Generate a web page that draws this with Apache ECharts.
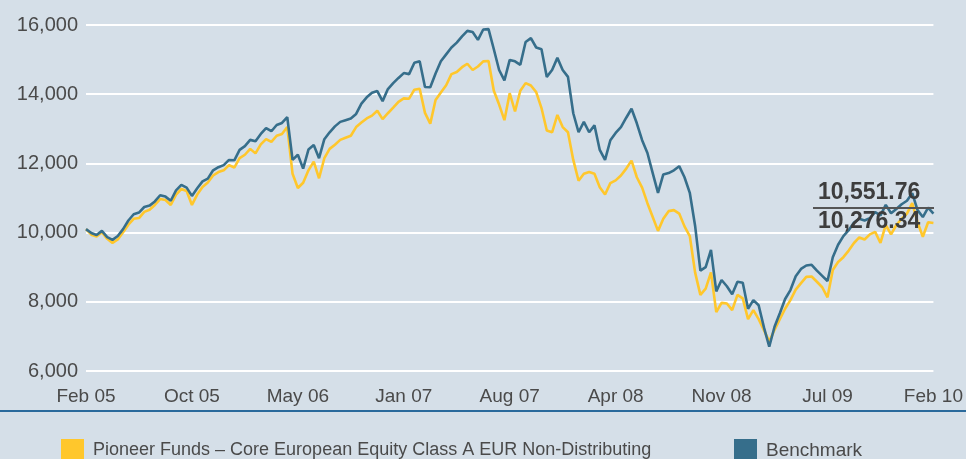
<!DOCTYPE html>
<html><head><meta charset="utf-8">
<script src="https://cdn.jsdelivr.net/npm/echarts@6/dist/echarts.min.js"></script>
<style>html,body{margin:0;padding:0;background:#d5dfe8}#c{width:966px;height:459px}</style>
</head><body><div id="c"></div><script>
const tickLabels = ['Feb 05','Oct 05','May 06','Jan 07','Aug 07','Apr 08','Nov 08','Jul 09','Feb 10'];
const seriesNames = ['Pioneer Funds \u2013 Core European Equity Class A EUR Non-Distributing', 'Benchmark'];
const fund = [
10100,9940,9890,10010,9820,9700,9800,10010,10230,10400,
10420,10600,10660,10800,10970,10940,10800,11100,11260,11200,
10800,11100,11320,11450,11650,11750,11800,11950,11880,12150,
12250,12420,12290,12550,12700,12620,12800,12850,13050,11700,
11290,11440,11800,12050,11570,12150,12420,12540,12680,12740,
12800,13050,13180,13300,13380,13520,13280,13450,13610,13780,
13880,13870,14130,14160,13460,13150,13830,14050,14260,14580,
14640,14780,14880,14700,14800,14950,14960,14100,13700,13250,
14030,13500,14100,14320,14250,14060,13600,12950,12900,13400,
13050,12900,12100,11500,11700,11750,11700,11310,11100,11430,
11510,11650,11850,12080,11600,11300,10850,10450,10050,10400,
10620,10650,10550,10180,9900,8850,8200,8380,8850,7700,
7970,7950,7760,8200,8100,7500,7760,7500,7180,6850,
7190,7500,7800,8050,8350,8540,8720,8730,8580,8420,
8130,8920,9150,9290,9480,9700,9860,9800,9950,10020,
9700,10220,9950,10220,10400,10550,10850,10300,9880,10300,
10276.34];
const benchmark = [
10100,9990,9930,10050,9870,9790,9900,10100,10350,10530,
10580,10740,10780,10900,11080,11040,10920,11220,11380,11300,
11060,11280,11480,11560,11800,11890,11950,12100,12090,12390,
12500,12680,12640,12850,13020,12930,13110,13170,13340,12100,
12250,11850,12400,12530,12150,12700,12900,13070,13200,13250,
13300,13430,13730,13910,14040,14090,13800,14150,14320,14470,
14610,14580,14910,14950,14210,14200,14600,14950,15150,15350,
15490,15670,15830,15800,15570,15870,15880,15300,14700,14400,
14990,14950,14850,15510,15620,15350,15300,14500,14700,15050,
14700,14500,13450,12900,13200,12900,13100,12390,12100,12670,
12880,13050,13320,13580,13160,12670,12300,11720,11150,11680,
11720,11800,11920,11600,11150,10200,8900,9000,9500,8300,
8630,8450,8220,8580,8550,7800,8050,7900,7260,6700,
7280,7670,8080,8340,8740,8950,9050,9070,8900,8750,
8600,9290,9650,9900,10070,10290,10400,10350,10420,10590,
10500,10800,10560,10680,10820,10920,11140,10650,10450,10720,
10551.76];
const yTicks = {min: 6000, max: 16000, interval: 2000};

const categories = fund.map((_, i) => i);
const step = (fund.length - 1) / (tickLabels.length - 1);
const fmt2 = v => v.toLocaleString('en-US', {minimumFractionDigits: 2, maximumFractionDigits: 2});
const FONT = '"Liberation Sans", Arial, sans-serif';
const TXT = '#4a4a4a';

const chart = echarts.init(document.getElementById('c'));
chart.setOption({
  backgroundColor: '#d5dfe8',
  animation: false,
  grid: {left: 86, right: 28, top: 25, bottom: 88, containLabel: false},
  xAxis: {
    type: 'category', data: categories, boundaryGap: false,
    axisLine: {show: false}, axisTick: {show: false}, splitLine: {show: false},
    axisLabel: {
      interval: step - 1, margin: 16, color: TXT, fontFamily: FONT, fontSize: 19,
      formatter: (v, i) => tickLabels[Math.round(i / step)] || ''
    }
  },
  yAxis: {
    type: 'value', min: yTicks.min, max: yTicks.max, interval: yTicks.interval,
    axisLine: {show: false}, axisTick: {show: false},
    splitLine: {lineStyle: {color: '#ffffff', width: 2}},
    axisLabel: {margin: 8, color: TXT, fontFamily: FONT, fontSize: 20,
      formatter: v => v.toLocaleString('en-US')}
  },
  legend: [
    {data: [seriesNames[0]], left: 56, top: 434, icon: 'rect', itemWidth: 23, itemHeight: 23,
      textStyle: {color: TXT, fontFamily: FONT, fontSize: 18, padding: [0, 0, 0, 4]}, selectedMode: false},
    {data: [seriesNames[1]], left: 729, top: 434, icon: 'rect', itemWidth: 23, itemHeight: 23,
      textStyle: {color: TXT, fontFamily: FONT, fontSize: 19, padding: [0, 0, 0, 4]}, selectedMode: false}
  ],
  series: [
    {name: seriesNames[0], type: 'line', data: fund, symbol: 'none', color: '#ffc72c',
      lineStyle: {width: 2.6, color: '#ffc72c'}, z: 2},
    {name: seriesNames[1], type: 'line', data: benchmark, symbol: 'none', color: '#366e8b',
      lineStyle: {width: 2.6, color: '#366e8b'}, z: 3}
  ],
  graphic: [
    {type: 'line', z: 100, shape: {x1: 0, y1: 411, x2: 966, y2: 411}, style: {stroke: '#2a6a9c', lineWidth: 2}},
    {type: 'line', z: 100, shape: {x1: 813, y1: 208, x2: 934, y2: 208}, style: {stroke: '#555555', lineWidth: 2}},
    {type: 'text', z: 101, left: 818, top: 181, style: {text: fmt2(benchmark[benchmark.length - 1]),
      fill: '#3d3d3d', font: 'bold 23px ' + FONT}},
    {type: 'text', z: 101, left: 818, top: 210, style: {text: fmt2(fund[fund.length - 1]),
      fill: '#3d3d3d', font: 'bold 23px ' + FONT}}
  ]
});
</script></body></html>
